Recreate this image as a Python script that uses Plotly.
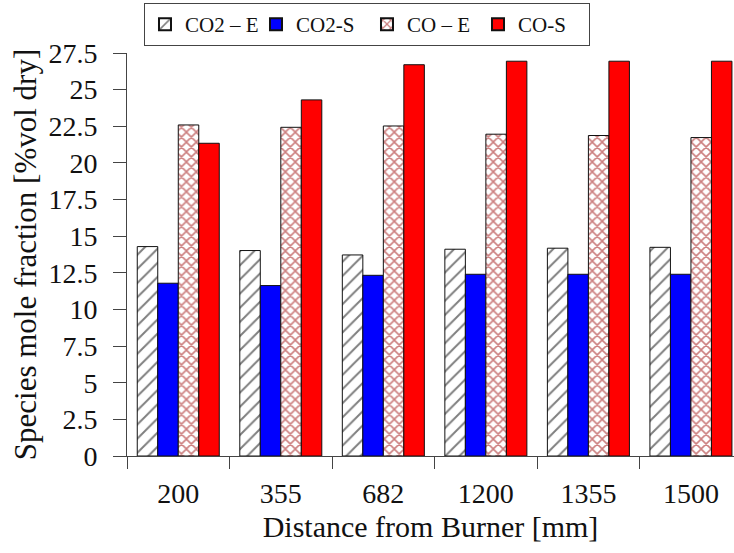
import plotly.graph_objects as go

categories = ["200", "355", "682", "1200", "1355", "1500"]
co2_e = [14.29, 14.02, 13.72, 14.11, 14.18, 14.24]
co2_s = [11.79, 11.63, 12.33, 12.40, 12.40, 12.40]
co_e = [22.59, 22.43, 22.52, 21.96, 21.87, 21.73]
co_s = [21.34, 24.30, 26.70, 26.94, 26.94, 26.94]
y_ticks = [0, 2.5, 5, 7.5, 10, 12.5, 15, 17.5, 20, 22.5, 25, 27.5]
y_tick_text = ["0", "2.5", "5", "7.5", "10", "12.5", "15", "17.5", "20", "22.5", "25", "27.5"]

FONT = "Liberation Serif, Times New Roman, serif"
outline = dict(color="#111111", width=1)

fig = go.Figure()
fig.add_trace(go.Bar(
    x=categories, y=co2_e, name="CO2 \u2013 E",
    marker=dict(color="white", line=outline,
                pattern=dict(shape="/", fgcolor="#000000", bgcolor="white", size=10, solidity=0.2)),
))
fig.add_trace(go.Bar(
    x=categories, y=co2_s, name="CO2-S",
    marker=dict(color="#0000ff", line=outline),
))
fig.add_trace(go.Bar(
    x=categories, y=co_e, name="CO \u2013 E",
    marker=dict(color="white", line=outline,
                pattern=dict(shape="x", fgcolor="#990000", bgcolor="white", size=7, solidity=0.4)),
))
fig.add_trace(go.Bar(
    x=categories, y=co_s, name="CO-S",
    marker=dict(color="#ff0000", line=outline),
))

fig.update_layout(
    width=734, height=553,
    margin=dict(l=127, r=0, t=53, b=97),
    paper_bgcolor="white", plot_bgcolor="white",
    barmode="group", bargap=0.2, bargroupgap=0,
    font=dict(family=FONT, size=28, color="#111111"),
    showlegend=True,
    legend=dict(
        orientation="h", x=0.028, y=1.124, xanchor="left", yanchor="top",
        bordercolor="#444444", borderwidth=1, bgcolor="white",
        font=dict(family=FONT, size=21, color="#111111"),
        itemsizing="constant", traceorder="normal",
        entrywidth=66, entrywidthmode="pixels",
    ),
    xaxis=dict(
        type="category", range=[-0.5, 5.42],
        showline=True, linecolor="#444444", linewidth=1,
        ticks="outside", tickson="boundaries", ticklen=12, tickcolor="#444444",
        showgrid=False, zeroline=False,
        tickfont=dict(family=FONT, size=28, color="#111111"),
        ticklabelstandoff=12,
        title=dict(text="Distance from Burner [mm]", font=dict(family=FONT, size=30), standoff=8),
    ),
    yaxis=dict(
        range=[0, 27.5], tickmode="array", tickvals=y_ticks, ticktext=y_tick_text,
        showline=True, linecolor="#444444", linewidth=1,
        ticks="outside", ticklen=13, tickcolor="#444444",
        showgrid=False, zeroline=False,
        tickfont=dict(family=FONT, size=28, color="#111111"),
        ticklabelstandoff=10,
        title=dict(text="Species mole fraction [%vol dry]", font=dict(family=FONT, size=31), standoff=2),
    ),
)

fig.write_html("out.html")
